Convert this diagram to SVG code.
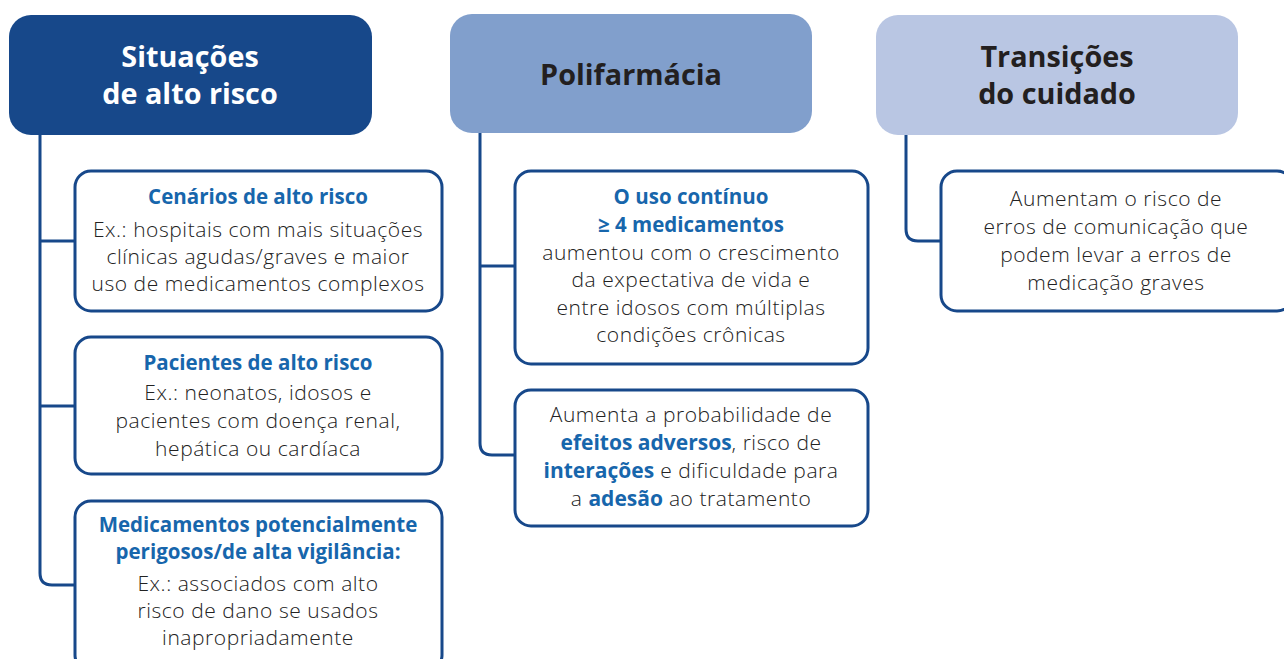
<svg xmlns="http://www.w3.org/2000/svg" width="1284" height="659" viewBox="0 0 1284 659">
<style>
.hdr{font-family:"Open Sans","Noto Sans",sans-serif;font-weight:700;font-size:28.8px;text-anchor:middle}
.box{fill:#fff;stroke:#17488a;stroke-width:3}
.t{font-family:"Open Sans","Noto Sans",sans-serif;font-weight:300;font-size:21px;letter-spacing:0.55px;fill:#222;text-anchor:middle}
.b{font-family:"Open Sans","Noto Sans",sans-serif;font-weight:700;font-size:20.5px;fill:#1766ac;text-anchor:middle}
.bb{font-weight:700;fill:#1766ac;letter-spacing:0}
.c{fill:none;stroke:#17488a;stroke-width:3}
</style>
<rect width="1284" height="659" fill="#fff"/>
<g id="connectors">
<path class="c" d="M40,135 V573 Q40,585 52,585 H75"/>
<path class="c" d="M40,241 H75"/>
<path class="c" d="M40,406 H75"/>
<path class="c" d="M480,133 V443 Q480,455 492,455 H514"/>
<path class="c" d="M480,266 H514"/>
<path class="c" d="M906,135 V229 Q906,241 918,241 H941"/>
</g>
<g id="h1">
<rect x="9" y="15" width="363" height="120" rx="22" fill="#17488a"/>
<text class="hdr" x="190" y="67" fill="#fff">Situações</text>
<text class="hdr" x="190" y="104" fill="#fff">de alto risco</text>
</g>
<g id="h2">
<rect x="450" y="14" width="362" height="119" rx="22" fill="#819fcc"/>
<text class="hdr" x="631" y="85" fill="#231f20">Polifarmácia</text>
</g>
<g id="h3">
<rect x="876" y="15" width="362" height="120" rx="22" fill="#b9c6e3"/>
<text class="hdr" x="1057" y="67" fill="#231f20">Transições</text>
<text class="hdr" x="1057" y="104" fill="#231f20">do cuidado</text>
</g>
<g id="n1">
<rect class="box" x="75" y="171" width="367" height="140" rx="16"/>
<text class="b" x="258" y="204">Cenários de alto risco</text>
<text class="t" x="258" y="237">Ex.: hospitais com mais situações</text>
<text class="t" x="258" y="264">clínicas agudas/graves e maior</text>
<text class="t" x="258" y="291">uso de medicamentos complexos</text>
</g>
<g id="n2">
<rect class="box" x="75" y="337" width="367" height="137" rx="16"/>
<text class="b" x="258" y="370">Pacientes de alto risco</text>
<text class="t" x="258" y="400">Ex.: neonatos, idosos e</text>
<text class="t" x="258" y="428">pacientes com doença renal,</text>
<text class="t" x="258" y="456">hepática ou cardíaca</text>
</g>
<g id="n3">
<rect class="box" x="75" y="501" width="367" height="170" rx="16"/>
<text class="b" x="258" y="532">Medicamentos potencialmente</text>
<text class="b" x="258" y="559">perigosos/de alta vigilância:</text>
<text class="t" x="258" y="591">Ex.: associados com alto</text>
<text class="t" x="258" y="618">risco de dano se usados</text>
<text class="t" x="258" y="645">inapropriadamente</text>
</g>
<g id="m1">
<rect class="box" x="515" y="171" width="353" height="193" rx="16"/>
<text class="b" x="691" y="204">O uso contínuo</text>
<text class="b" x="691" y="232">≥ 4 medicamentos</text>
<text class="t" x="691" y="260">aumentou com o crescimento</text>
<text class="t" x="691" y="287">da expectativa de vida e</text>
<text class="t" x="691" y="315">entre idosos com múltiplas</text>
<text class="t" x="691" y="342">condições crônicas</text>
</g>
<g id="m2">
<rect class="box" x="515" y="390" width="353" height="136" rx="16"/>
<text class="t" x="691" y="422">Aumenta a probabilidade de</text>
<text class="t" x="691" y="450"><tspan class="bb">efeitos adversos</tspan>, risco de</text>
<text class="t" x="691" y="478"><tspan class="bb">interações</tspan> e dificuldade para</text>
<text class="t" x="691" y="506">a <tspan class="bb">adesão</tspan> ao tratamento</text>
</g>
<g id="r1">
<rect class="box" x="941" y="171" width="352" height="140" rx="16"/>
<text class="t" x="1116" y="206">Aumentam o risco de</text>
<text class="t" x="1116" y="234">erros de comunicação que</text>
<text class="t" x="1116" y="262">podem levar a erros de</text>
<text class="t" x="1116" y="290">medicação graves</text>
</g>
</svg>
